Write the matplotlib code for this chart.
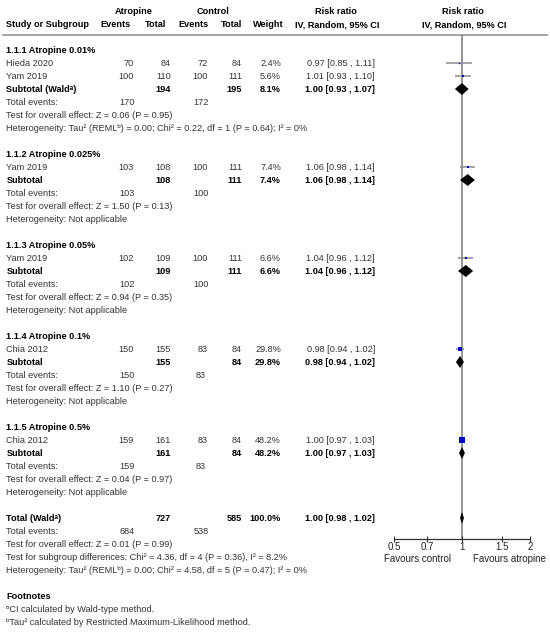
import matplotlib
matplotlib.use('Agg')
import matplotlib.pyplot as plt
from matplotlib.patches import Polygon
from matplotlib.ticker import NullLocator, FixedLocator, FixedFormatter

plt.rcParams['font.family'] = ['Liberation Sans', 'DejaVu Sans']

# ---------------- data ----------------
subgroup_titles = ['1.1.1 Atropine 0.01%', '1.1.2 Atropine 0.025%', '1.1.3 Atropine 0.05%',
                   '1.1.4 Atropine 0.1%', '1.1.5 Atropine 0.5%']
study_names = ['Hieda 2020', 'Yam 2019', 'Yam 2019', 'Yam 2019', 'Chia 2012', 'Chia 2012']
study_group = [0, 0, 1, 2, 3, 4]
atr_events = [70, 100, 103, 102, 150, 159]
atr_total = [84, 110, 108, 109, 155, 161]
ctl_events = [72, 100, 100, 100, 83, 83]
ctl_total = [84, 111, 111, 111, 84, 84]
weights = [2.4, 5.6, 7.4, 6.6, 29.8, 48.2]
rr = [0.97, 1.01, 1.06, 1.04, 0.98, 1.00]
rr_lo = [0.85, 0.93, 0.98, 0.96, 0.94, 0.97]
rr_hi = [1.11, 1.10, 1.14, 1.12, 1.02, 1.03]

sub_labels = ['Subtotal (Wald\u1d43)', 'Subtotal', 'Subtotal', 'Subtotal', 'Subtotal']
sub_atr_total = [194, 108, 109, 155, 161]
sub_ctl_total = [195, 111, 111, 84, 84]
sub_weight = [8.1, 7.4, 6.6, 29.8, 48.2]
sub_rr = [1.00, 1.06, 1.04, 0.98, 1.00]
sub_lo = [0.93, 0.98, 0.96, 0.94, 0.97]
sub_hi = [1.07, 1.14, 1.12, 1.02, 1.03]
sub_atr_events = [170, 103, 102, 150, 159]
sub_ctl_events = [172, 100, 100, 83, 83]
sub_test = ['Z = 0.06 (P = 0.95)', 'Z = 1.50 (P = 0.13)', 'Z = 0.94 (P = 0.35)',
            'Z = 1.10 (P = 0.27)', 'Z = 0.04 (P = 0.97)']
sub_het = ['Tau\u00b2 (REML\u1d47) = 0.00; Chi\u00b2 = 0.22, df = 1 (P = 0.64); I\u00b2 = 0%',
           'Not applicable', 'Not applicable', 'Not applicable', 'Not applicable']

total_label = 'Total (Wald\u1d43)'
total_atr_total = 727
total_ctl_total = 585
total_weight = 100.0
total_rr, total_lo, total_hi = 1.00, 0.98, 1.02
total_atr_events = 684
total_ctl_events = 538
total_test = 'Z = 0.01 (P = 0.99)'
total_subgroup = 'Chi\u00b2 = 4.36, df = 4 (P = 0.36), I\u00b2 = 8.2%'
total_het = 'Tau\u00b2 (REML\u1d47) = 0.00; Chi\u00b2 = 4.58, df = 5 (P = 0.47); I\u00b2 = 0%'

footnotes = ['\u1d43CI calculated by Wald-type method.',
             '\u1d47Tau\u00b2 calculated by Restricted Maximum-Likelihood method.']

x_ticks = [0.5, 0.7, 1, 1.5, 2]
x_tick_labels = ['0.5', '0.7', '1', '1.5', '2']

# ---------------- layout ----------------
W, H = 550, 637
FS = 6.6
GREY = '#333333'
fig = plt.figure(figsize=(W / 100, H / 100), dpi=100)
ax = fig.add_axes([0, 0, 1, 1])
ax.set_xlim(0, W)
ax.set_ylim(H, 0)
ax.axis('off')

AX_Y = 539
TOP_Y = 35
fx0, fx1 = 394, 530
fax = fig.add_axes([fx0 / W, (H - AX_Y) / H, (fx1 - fx0) / W, (AX_Y - TOP_Y) / H])
fax.set_xscale('log')
fax.set_xlim(x_ticks[0], x_ticks[-1])
fax.set_ylim(AX_Y, TOP_Y)
fax.patch.set_alpha(0)
for s in ['top', 'left', 'right']:
    fax.spines[s].set_visible(False)
fax.spines['bottom'].set_color('#333333')
fax.spines['bottom'].set_linewidth(0.9)
fax.yaxis.set_major_locator(NullLocator())
fax.xaxis.set_major_locator(FixedLocator(x_ticks))
fax.xaxis.set_major_formatter(FixedFormatter(x_tick_labels))
fax.xaxis.set_minor_locator(NullLocator())
fax.tick_params(axis='x', direction='inout', length=4, width=0.8, color='#333333',
                labelsize=FS + 0.4, pad=0, labelcolor='#222222')
fax.axvline(1, color='#7a7a7a', lw=1.1, zorder=1)

XL = 6.5
X_AE, X_AT, X_CE, X_CT, X_W, X_CI = 134, 171, 208, 242, 281, 375
BASE = 3.3  # baseline offset below row centre (pixels)


def txt(x, y, s, ha='left', bold=False, color=None, size=FS):
    ax.text(x, y + BASE, s, ha=ha, va='baseline', fontsize=size,
            fontweight='bold' if bold else 'normal',
            color=color if color else ('black' if bold else GREY))


# headers
txt(134, 11, 'Atropine', ha='center', bold=True)
txt(213, 11, 'Control', ha='center', bold=True)
txt(336, 11, 'Risk ratio', ha='center', bold=True)
txt(463, 11, 'Risk ratio', ha='center', bold=True)
txt(XL, 24, 'Study or Subgroup', bold=True)
txt(115, 24, 'Events', ha='center', bold=True)
txt(156, 24, 'Total', ha='center', bold=True)
txt(193, 24, 'Events', ha='center', bold=True)
txt(232, 24, 'Total', ha='center', bold=True)
txt(268, 24, 'Weight', ha='center', bold=True)
txt(337, 24, 'IV, Random, 95% CI', ha='center', bold=True)
txt(464, 24, 'IV, Random, 95% CI', ha='center', bold=True)
ax.plot([3, 547], [TOP_Y, TOP_Y], color='#8a8a8a', lw=1.1)

PITCH = 13
y = 50


def ci_str(a, b, c):
    return f'{a:.2f} [{b:.2f} , {c:.2f}]'


for g, title in enumerate(subgroup_titles):
    txt(XL, y, title, bold=True)
    y += PITCH
    for i, name in enumerate(study_names):
        if study_group[i] != g:
            continue
        txt(XL, y, name)
        txt(X_AE, y, str(atr_events[i]), ha='right')
        txt(X_AT, y, str(atr_total[i]), ha='right')
        txt(X_CE, y, str(ctl_events[i]), ha='right')
        txt(X_CT, y, str(ctl_total[i]), ha='right')
        txt(X_W, y, f'{weights[i]:.1f}%', ha='right')
        txt(X_CI, y, ci_str(rr[i], rr_lo[i], rr_hi[i]), ha='right')
        fax.plot([rr_lo[i], rr_hi[i]], [y, y], color='#8c8c8c', lw=1.1, zorder=2,
                 solid_capstyle='butt')
        side = 6.3 * (weights[i] / 48.2) ** 0.5
        fax.plot([rr[i]], [y], marker='s', ms=max(side, 1.0) * 0.72, color='#0000cc',
                 mew=0, zorder=3)
        y += PITCH
    txt(XL, y, sub_labels[g], bold=True)
    txt(X_AT, y, str(sub_atr_total[g]), ha='right', bold=True)
    txt(X_CT, y, str(sub_ctl_total[g]), ha='right', bold=True)
    txt(X_W, y, f'{sub_weight[g]:.1f}%', ha='right', bold=True)
    txt(X_CI, y, ci_str(sub_rr[g], sub_lo[g], sub_hi[g]), ha='right', bold=True)
    fax.add_patch(Polygon([(sub_lo[g], y), (sub_rr[g], y - 6), (sub_hi[g], y), (sub_rr[g], y + 6)],
                          closed=True, color='black', zorder=4, lw=0))
    y += PITCH
    txt(XL, y, 'Total events:')
    txt(X_AE - 7, y, str(sub_atr_events[g]), ha='center')
    txt(X_CE - 7, y, str(sub_ctl_events[g]), ha='center')
    y += PITCH
    txt(XL, y, 'Test for overall effect: ' + sub_test[g])
    y += PITCH
    txt(XL, y, 'Heterogeneity: ' + sub_het[g])
    y += 2 * PITCH

# total
txt(XL, y, total_label, bold=True)
txt(X_AT, y, str(total_atr_total), ha='right', bold=True)
txt(X_CT, y, str(total_ctl_total), ha='right', bold=True)
txt(X_W, y, f'{total_weight:.1f}%', ha='right', bold=True)
txt(X_CI, y, ci_str(total_rr, total_lo, total_hi), ha='right', bold=True)
fax.add_patch(Polygon([(total_lo, y), (total_rr, y - 6), (total_hi, y), (total_rr, y + 6)],
                      closed=True, color='black', zorder=4, lw=0))
y += PITCH
txt(XL, y, 'Total events:')
txt(X_AE - 7, y, str(total_atr_events), ha='center')
txt(X_CE - 7, y, str(total_ctl_events), ha='center')
y += PITCH
txt(XL, y, 'Test for overall effect: ' + total_test)
y += PITCH
txt(XL, y, 'Test for subgroup differences: ' + total_subgroup)
txt(418, y + 1.5, 'Favours control', ha='center', color='#222222', size=FS + 0.4)
txt(509, y + 1.5, 'Favours atropine', ha='center', color='#222222', size=FS + 0.4)
y += PITCH
txt(XL, y, 'Heterogeneity: ' + total_het)
y += 2 * PITCH
txt(XL, y, 'Footnotes', bold=True)
for f in footnotes:
    y += PITCH
    txt(XL, y, f)

fig.savefig('out.png', dpi=100)
